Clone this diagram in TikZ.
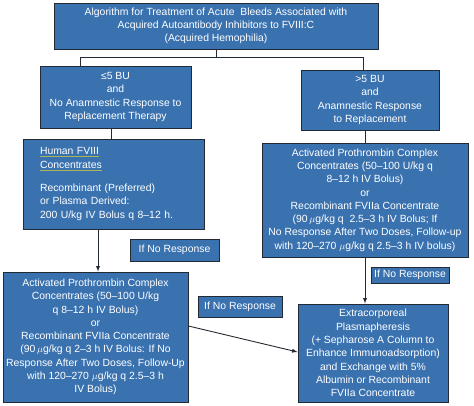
\documentclass[tikz,border=0pt]{standalone}
\usepackage{fontspec}
\setmainfont{Liberation Sans}
\usetikzlibrary{positioning}

\definecolor{boxblue}{RGB}{58,114,176}
\definecolor{boxline}{RGB}{35,42,52}
\definecolor{linkline}{RGB}{170,180,90}

\newcommand{\linkul}[1]{\leavevmode\setbox0\hbox{#1}\rlap{\color{linkline}\rule[-2.2pt]{\wd0}{0.7pt}}\box0}

\tikzset{
  algbox/.style={rectangle,draw=boxline,line width=0.9pt,fill=boxblue,text=white,
    font=\fontsize{10.4}{13.3}\selectfont,align=center,inner sep=1pt},
  nrbox/.style={algbox,font=\fontsize{10.4}{12}\selectfont},
  link/.style={draw=boxline,line width=0.9pt},
  arr/.style={link,-latex}
}

\begin{document}
\begin{tikzpicture}[x=1pt,y=-1pt]
\useasboundingbox (0,0) rectangle (474,406);

\node[algbox,minimum width=324pt,minimum height=46pt] (title) at (216,26)
  {Algorithm for Treatment of Acute\ \ Bleeds Associated with\\
   Acquired Autoantibody Inhibitors to FVIII:C\\
   (Acquired Hemophilia)};

\node[algbox,minimum width=151pt,minimum height=62pt] (lowbu) at (115.5,97)
  {≤5 BU\\ and\\ No Anamnestic Response to\\ Replacement Therapy};
\node[algbox,minimum width=138pt,minimum height=60pt] (highbu) at (370,100)
  {>5 BU\\ and\\ Anamnestic Response\\ to Replacement};

\node[algbox,minimum width=181pt,minimum height=90pt,align=left,text width=147pt] (humanf) at (113.5,184)
  {\linkul{Human FVIII}\\ \linkul{Concentrates}\\[10pt]
   Recombinant (Preferred)\\ or Plasma Derived:\\ 200 U/kg IV Bolus q 8--12 h.};

\node[algbox,minimum width=206pt,minimum height=114pt] (apccright) at (365,200)
  {Activated Prothrombin Complex\\ Concentrates (50--100 U/kg q\\ 8--12 h IV Bolus)\\ or\\
   Recombinant FVIIa Concentrate\\ (90\,$\mu$g/kg q\ \ 2.5--3 h IV Bolus; If\\
   No Response After Two Doses, Follow-up\\ with 120--270 $\mu$g/kg q 2.5--3 h IV bolus)};

\node[nrbox,minimum width=89pt,minimum height=22pt] (noresp1) at (174.5,250) {If No Response};

\node[algbox,minimum width=185pt,minimum height=130pt] (apccleft) at (95.5,337)
  {Activated Prothrombin Complex\\ Concentrates (50--100 U/kg\\ q 8--12 h IV Bolus)\\ or\\
   Recombinant FVIIa Concentrate\\ (90\,$\mu$g/kg q 2--3 h IV Bolus: If No\\
   Response After Two Doses, Follow-Up\\ with 120--270 $\mu$g/kg q 2.5--3 h\\ IV Bolus)};

\node[nrbox,minimum width=84pt,minimum height=21pt] (noresp2) at (240,306.5) {If No Response};
\node[nrbox,minimum width=78pt,minimum height=16pt] (noresp3) at (410,275) {If No Response};

\node[algbox,minimum width=150pt,minimum height=98pt] (plasma) at (373,353)
  {Extracorporeal\\ Plasmapheresis\\ (+ Sepharose A Column to\\ Enhance Immunoadsorption)\\
   and Exchange with 5\%\\ Albumin or Recombinant\\ FVIIa Concentrate};

% branches from the title
\coordinate (split) at (title.south |- 0,57);
\draw[link] (title.south) -- (split);
\draw[link] (80,57) -- (363,57);
\draw[link] (80,57) -- (80,0 |- lowbu.north);
\draw[link] (363,57) -- (363,0 |- highbu.north);

% steps down
\draw[link] (111,0 |- lowbu.south) -- (111,0 |- humanf.north);
\draw[link] (365,0 |- highbu.south) -- (365,0 |- apccright.north);
\draw[arr] (98,0 |- humanf.south) -- (98,0 |- apccleft.north);
\draw[arr] (365,0 |- apccright.south) -- (365,0 |- plasma.north);
\draw[arr] (apccleft.east |- 0,326) -- (plasma.west |- 0,352);

\end{tikzpicture}
\end{document}
